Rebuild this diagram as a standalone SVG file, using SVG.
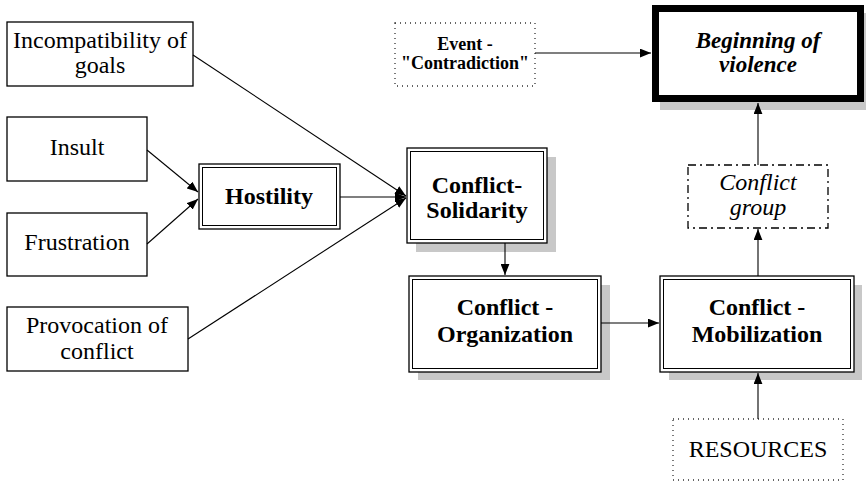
<svg xmlns="http://www.w3.org/2000/svg" width="866" height="482" viewBox="0 0 866 482" font-family="'Liberation Serif', 'Times New Roman', Times, 'DejaVu Serif', serif">
  <defs>
    <marker id="arrow" viewBox="0 0 10 8" refX="10" refY="4" markerWidth="11" markerHeight="9" markerUnits="userSpaceOnUse" orient="auto">
      <path d="M0,0 L10,4 L0,8 Z" fill="#000"/>
    </marker>
  </defs>
  <style>
    .box { fill: #fff; stroke: #000; stroke-width: 1.3; }
    .inner { fill: none; stroke: #000; stroke-width: 1; }
    .shadow { fill: #c8c8c8; }
    .dotted { fill: #fff; stroke: #333; stroke-width: 1.3; stroke-dasharray: 1 4; }
    .dashdot { fill: #fff; stroke: #000; stroke-width: 1.3; stroke-dasharray: 8 4 2 4; }
    .heavy { fill: #fff; stroke: #000; stroke-width: 7; }
    .link { fill: none; stroke: #000; stroke-width: 1.1; marker-end: url(#arrow); }
    text { font-family: 'Liberation Serif', 'Times New Roman', Times, 'DejaVu Serif', serif; font-size: 24px; fill: #000; text-anchor: middle; }
    .b { font-weight: bold; }
    .i { font-style: italic; }
  </style>

  <g id="incompatibility">
    <rect class="box" x="7" y="22" width="186" height="64"/>
    <text x="100" y="48">Incompatibility of</text>
    <text x="100" y="73">goals</text>
  </g>

  <g id="insult">
    <rect class="box" x="7" y="117" width="140" height="64"/>
    <text x="77" y="155">Insult</text>
  </g>

  <g id="frustration">
    <rect class="box" x="7" y="213" width="140" height="63"/>
    <text x="77" y="250">Frustration</text>
  </g>

  <g id="provocation">
    <rect class="box" x="7" y="307" width="181" height="64"/>
    <text x="97" y="333">Provocation of</text>
    <text x="97" y="359">conflict</text>
  </g>

  <g id="hostility">
    <rect class="box" x="199" y="164" width="141" height="65"/>
    <rect class="inner" x="202.5" y="167.5" width="134" height="58"/>
    <text class="b" x="269" y="204">Hostility</text>
  </g>

  <g id="solidarity">
    <rect class="shadow" x="416" y="157" width="140" height="95"/>
    <rect class="box" x="407" y="148" width="140" height="95"/>
    <rect class="inner" x="410.5" y="151.5" width="133" height="88"/>
    <text class="b" x="477" y="193">Conflict-</text>
    <text class="b" x="477" y="218">Solidarity</text>
  </g>

  <g id="organization">
    <rect class="shadow" x="418" y="285" width="192" height="95"/>
    <rect class="box" x="409" y="276" width="192" height="96"/>
    <rect class="inner" x="412.5" y="279.5" width="185" height="89"/>
    <text class="b" x="505" y="315">Conflict -</text>
    <text class="b" x="505" y="342">Organization</text>
  </g>

  <g id="mobilization">
    <rect class="shadow" x="669" y="285" width="193" height="95"/>
    <rect class="box" x="660" y="276" width="194" height="96"/>
    <rect class="inner" x="663.5" y="279.5" width="187" height="89"/>
    <text class="b" x="757" y="315">Conflict -</text>
    <text class="b" x="757" y="342">Mobilization</text>
  </g>

  <g id="conflict-group">
    <rect class="dashdot" x="688" y="165" width="140" height="63"/>
    <text class="i" x="758" y="190">Conflict</text>
    <text class="i" x="758" y="215">group</text>
  </g>

  <g id="beginning">
    <rect class="shadow" x="660" y="13" width="206" height="97"/>
    <rect class="heavy" x="655.5" y="8.5" width="205" height="90"/>
    <text class="b i" x="758" y="48" style="font-size:23px">Beginning of</text>
    <text class="b i" x="758" y="72" style="font-size:23px">violence</text>
  </g>

  <g id="event">
    <rect class="dotted" x="395" y="23" width="140" height="63"/>
    <text class="b" x="465" y="50" style="font-size:18px">Event -</text>
    <text class="b" x="465" y="69" style="font-size:18px">"Contradiction"</text>
  </g>

  <g id="resources">
    <rect class="dotted" x="673" y="419" width="170" height="61"/>
    <text x="758" y="457">RESOURCES</text>
  </g>

  <!-- connectors, drawn over the box shadows -->
  <g id="connectors">
    <line class="link" x1="193" y1="55" x2="406" y2="196"/>
    <line class="link" x1="340" y1="197" x2="406" y2="197"/>
    <line class="link" x1="188" y1="339" x2="406" y2="198"/>
    <line class="link" x1="147" y1="150" x2="198" y2="192"/>
    <line class="link" x1="147" y1="244" x2="198" y2="199"/>
    <line class="link" x1="505" y1="243" x2="505" y2="275"/>
    <line class="link" x1="601" y1="323" x2="659" y2="323"/>
    <line class="link" x1="758" y1="276" x2="758" y2="229"/>
    <line class="link" x1="758" y1="165" x2="758" y2="103"/>
    <line class="link" x1="535" y1="53" x2="651" y2="53"/>
    <line class="link" x1="758" y1="419" x2="758" y2="373"/>
  </g>
</svg>
